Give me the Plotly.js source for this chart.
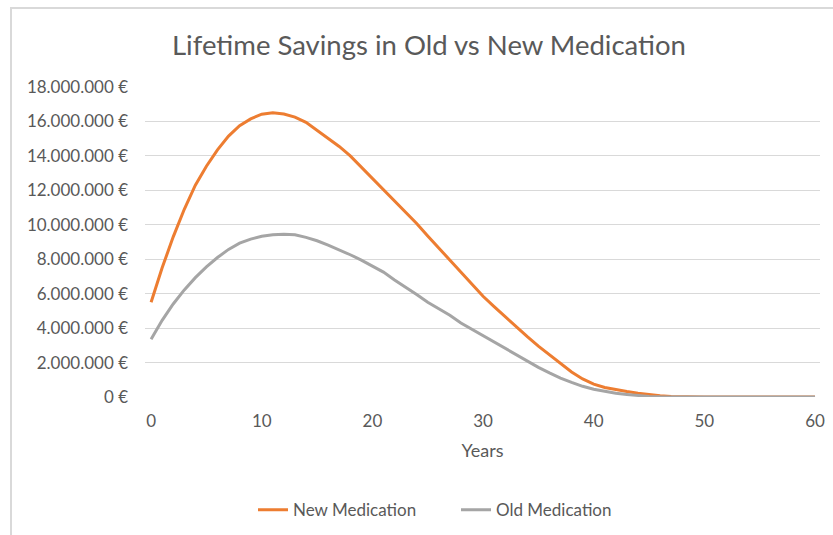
<!DOCTYPE html>
<html>
<head>
<meta charset="utf-8">
<script src="https://cdn.plot.ly/plotly-3.0.1.min.js"></script>
<style>
  html, body { margin: 0; padding: 0; background: #fff; }
  #chart { position: absolute; left: 0; top: 0; width: 833px; height: 535px; }
  #frame { position: absolute; left: 10px; top: 7px; width: 840px; height: 540px;
           border-top: 2px solid #d9d9d9; border-left: 2px solid #d9d9d9; pointer-events: none; }
</style>
</head>
<body>
<div id="chart"></div>
<div id="frame"></div>
<script>
const years = Array.from({length: 61}, (_, i) => i);

const newMedication = [
  5.5, 7.5, 9.3, 10.9, 12.3, 13.4, 14.35, 15.15, 15.75, 16.15,
  16.42, 16.5, 16.43, 16.25, 15.95, 15.5, 15.05, 14.55, 14.0, 13.35,
  12.7, 12.05, 11.4, 10.75, 10.08, 9.35, 8.65, 7.95, 7.2, 6.5,
  5.85, 5.25, 4.65, 4.05, 3.5, 2.95, 2.45, 1.9, 1.45, 1.05,
  0.75, 0.55, 0.42, 0.32, 0.22, 0.13, 0.07, 0.03, 0.01, 0,
  0, 0, 0, 0, 0, 0, 0, 0, 0, 0, 0
].map(v => v * 1e6);

const oldMedication = [
  3.35, 4.45, 5.4, 6.22, 6.93, 7.55, 8.1, 8.57, 8.93, 9.17,
  9.33, 9.42, 9.45, 9.42, 9.27, 9.07, 8.82, 8.56, 8.26, 7.95,
  7.6, 7.25, 6.8, 6.4, 5.95, 5.5, 5.15, 4.75, 4.3, 3.93,
  3.58, 3.22, 2.85, 2.45, 2.07, 1.72, 1.4, 1.1, 0.85, 0.62,
  0.45, 0.32, 0.22, 0.15, 0.08, 0.03, 0.01, 0, 0, 0,
  0, 0, 0, 0, 0, 0, 0, 0, 0, 0, 0
].map(v => v * 1e6);

const seriesNames = ["New Medication", "Old Medication"];
const yTicks = [0, 2e6, 4e6, 6e6, 8e6, 10e6, 12e6, 14e6, 16e6, 18e6];
const yTickText = yTicks.map(v => String(Math.round(v)).replace(/\B(?=(\d{3})+(?!\d))/g, ".") + " €");
const xTicks = [0, 10, 20, 30, 40, 50, 60];

const FONT = "Lato, 'Open Sans', sans-serif";
const TXT = "#595959";

const traces = [
  { x: years, y: newMedication, name: seriesNames[0], type: "scatter", mode: "lines",
    line: { color: "#ED7D31", width: 3 } },
  { x: years, y: oldMedication, name: seriesNames[1], type: "scatter", mode: "lines",
    line: { color: "#A5A5A5", width: 3 } }
];

const layout = {
  width: 833, height: 535,
  margin: { l: 145, r: 13, t: 87, b: 138, autoexpand: false },
  paper_bgcolor: "#fff", plot_bgcolor: "#fff",
  font: { family: FONT, color: TXT, size: 17 },
  title: { text: "Lifetime Savings in Old vs New Medication",
           font: { family: FONT, size: 27.5, color: TXT },
           x: 0.515, xanchor: "center", y: 0.915, yanchor: "middle" },
  xaxis: {
    range: [-0.55, 60.45], tickvals: xTicks, ticks: "", showgrid: false, zeroline: false,
    showline: false, ticklabelstandoff: 12,
    tickfont: { family: FONT, size: 17, color: TXT },
    title: { text: "Years", font: { family: FONT, size: 18, color: TXT }, standoff: 14 }
  },
  yaxis: {
    range: [0, 18e6], tickvals: yTicks, ticktext: yTickText,
    ticks: "", showgrid: true, gridcolor: "#d9d9d9", gridwidth: 1, zeroline: false,
    showline: false, ticklabelstandoff: 16,
    tickfont: { family: FONT, size: 17, color: TXT }
  },
  showlegend: true,
  legend: { orientation: "h", x: 0.16, xanchor: "left", y: -0.365, yanchor: "middle",
            font: { family: FONT, size: 17, color: TXT }, traceorder: "normal",
            entrywidth: 158, entrywidthmode: "pixels" }
};

Plotly.newPlot("chart", traces, layout, { displayModeBar: false, staticPlot: true });
</script>
</body>
</html>
